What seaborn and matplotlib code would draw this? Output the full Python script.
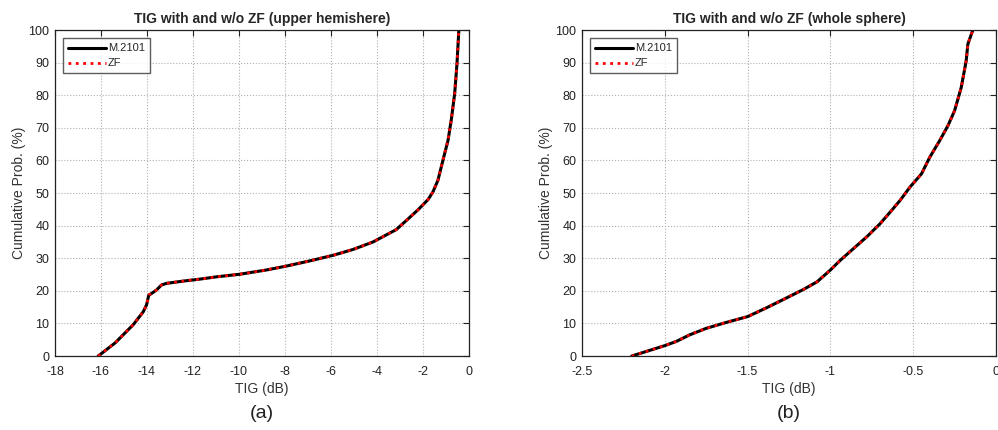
import matplotlib
matplotlib.use("Agg")
import matplotlib.pyplot as plt
import seaborn as sns
import pandas as pd

# Panel (a): upper hemisphere
tig_a = [-16.12, -15.39, -14.6, -14.16, -14.02, -13.92, -13.8, -13.58, -13.37, -13.15,
         -12.42, -11.70, -10.98, -9.96, -8.81, -7.94, -6.92, -5.91, -5.04, -4.17,
         -3.16, -2.72, -2.21, -1.78, -1.57, -1.35, -1.13, -0.91, -0.77, -0.62, -0.52, -0.44]
prob_a = [0.0, 4.0, 9.6, 13.6, 15.7, 18.7, 19.2, 20.3, 21.8, 22.3,
          23.0, 23.6, 24.3, 25.1, 26.4, 27.6, 29.2, 30.9, 32.7, 35.0,
          38.8, 41.6, 44.9, 48.0, 50.3, 53.9, 60.1, 66.2, 72.4, 80.6, 89.8, 100.0]

# Panel (b): whole sphere
tig_b = [-2.20, -2.0, -1.93, -1.85, -1.75, -1.63, -1.50, -1.39, -1.27, -1.16,
         -1.08, -1.0, -0.94, -0.86, -0.78, -0.70, -0.63, -0.58, -0.52, -0.45,
         -0.40, -0.34, -0.29, -0.25, -0.21, -0.18, -0.17, -0.14]
prob_b = [0.0, 3.2, 4.5, 6.5, 8.5, 10.3, 12.1, 14.7, 17.7, 20.5,
          22.8, 26.4, 29.4, 33.0, 36.6, 40.6, 44.7, 47.7, 51.8, 55.9,
          61.0, 66.1, 70.7, 75.3, 82.4, 90.6, 95.7, 100.0]

series_names = ["M.2101", "ZF"]
titles = ["TIG with and w/o ZF (upper hemishere)", "TIG with and w/o ZF (whole sphere)"]
panel_labels = ["(a)", "(b)"]
xlims = [(-18, 0), (-2.5, 0)]
xticks_list = [[-18, -16, -14, -12, -10, -8, -6, -4, -2, 0],
               [-2.5, -2, -1.5, -1, -0.5, 0]]
xticklabels_list = [["-18", "-16", "-14", "-12", "-10", "-8", "-6", "-4", "-2", "0"],
                    ["-2.5", "-2", "-1.5", "-1", "-0.5", "0"]]
yticks = [0, 10, 20, 30, 40, 50, 60, 70, 80, 90, 100]

sns.set_style("white")
plt.rcParams["font.family"] = ["Liberation Sans", "DejaVu Sans"]

fig = plt.figure(figsize=(9.98, 4.30), dpi=100)
axes = [fig.add_axes([0.0551, 0.172, 0.4148, 0.758]),
        fig.add_axes([0.5832, 0.172, 0.4148, 0.758])]

for ax, tig, prob, title, plab, xl, xt, xtl in zip(
        axes, [tig_a, tig_b], [prob_a, prob_b], titles, panel_labels,
        xlims, xticks_list, xticklabels_list):
    df = pd.DataFrame({"TIG": tig + tig, "prob": prob + prob,
                       "series": [series_names[0]] * len(tig) + [series_names[1]] * len(tig)})
    sns.lineplot(data=df[df.series == series_names[0]], x="TIG", y="prob", ax=ax,
                 color="black", linewidth=2.2, label=series_names[0], sort=False)
    sns.lineplot(data=df[df.series == series_names[1]], x="TIG", y="prob", ax=ax,
                 color="red", linewidth=2.0, linestyle=":", label=series_names[1], sort=False)
    ax.set_xlim(*xl)
    ax.set_ylim(0, 100)
    ax.set_xticks(xt)
    ax.set_xticklabels(xtl)
    ax.set_yticks(yticks)
    ax.grid(True, color="#b0b0b0", linestyle=":", linewidth=0.8)
    ax.tick_params(direction="in", top=True, right=True, length=4, width=0.8,
                   labelsize=9, colors="#222222")
    ax.tick_params(axis="x", pad=7)
    ax.tick_params(axis="y", pad=4)
    for sp in ax.spines.values():
        sp.set_visible(True)
        sp.set_color("#222222")
        sp.set_linewidth(0.9)
    ax.set_title(title, fontsize=10, fontweight="bold", pad=5)
    ax.set_xlabel("TIG (dB)", fontsize=10, color="#333333", labelpad=3)
    ax.set_ylabel("Cumulative Prob. (%)", fontsize=10, color="#333333", labelpad=1.5)
    leg = ax.legend(loc="upper left", fontsize=8, frameon=True, fancybox=False,
                    handlelength=3.4, borderpad=0.45, labelspacing=0.45,
                    handletextpad=0.15, borderaxespad=0.75)
    leg.get_frame().set_edgecolor("#333333")
    leg.get_frame().set_linewidth(1.0)
    ax.text(0.5, -0.15, plab, transform=ax.transAxes, ha="center", va="top",
            fontsize=14, color="#222222")

fig.savefig("out.png", dpi=100)
